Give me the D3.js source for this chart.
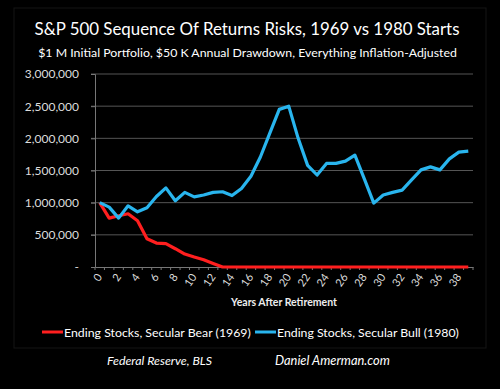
<!DOCTYPE html>
<html>
<head>
<meta charset="utf-8">
<script src="https://cdn.jsdelivr.net/npm/d3@7"></script>
<style>
  body { margin: 0; background: #000; }
  svg { display: block; font-family: Lato, "Open Sans", sans-serif; }
</style>
</head>
<body>
<script>
const W = 500, H = 389;

// data
const years = d3.range(0, 40);
const bear1969 = [1000000, 760000, 796000, 827000, 718000, 439000, 372000, 362000, 284000, 201000,
  155000, 113000, 56000, 0, 0, 0, 0, 0, 0, 0,
  0, 0, 0, 0, 0, 0, 0, 0, 0, 0,
  0, 0, 0, 0, 0, 0, 0, 0, 0, 0];
const bull1980 = [1000000, 931000, 760000, 951000, 858000, 920000, 1096000, 1230000, 1030000, 1160000,
  1090000, 1120000, 1160000, 1170000, 1110000, 1220000, 1410000, 1710000, 2080000, 2450000,
  2500000, 2000000, 1580000, 1430000, 1610000, 1610000, 1645000, 1740000, 1370000, 993000,
  1120000, 1160000, 1195000, 1355000, 1510000, 1556000, 1510000, 1680000, 1785000, 1800000];
const yTicks = [0, 500000, 1000000, 1500000, 2000000, 2500000, 3000000];
const seriesNames = ['Ending Stocks, Secular Bear (1969)', 'Ending Stocks, Secular Bull (1980)'];
const seriesColors = ['#ff1f1f', '#29b5ee'];

const M = {left: 95, right: 473, top: 74, bottom: 267};

const svg = d3.select('body').append('svg')
  .attr('width', W)
  .attr('height', H);

svg.append('rect').attr('width', W).attr('height', H).attr('fill', '#000');

// faint frame
svg.append('rect')
  .attr('x', 14).attr('y', 8).attr('width', 472).attr('height', 340)
  .attr('fill', 'none').attr('stroke', '#141414');

// scale text so it spans a given width
function fit(sel, width) {
  const len = sel.node().getComputedTextLength();
  const fs = parseFloat(sel.attr('font-size'));
  sel.attr('font-size', (fs * width / len).toFixed(2));
  return sel;
}

// titles
fit(svg.append('text')
  .attr('x', 247).attr('y', 35)
  .attr('text-anchor', 'middle')
  .attr('fill', '#fff')
  .attr('font-size', 18)
  .text('S&P 500 Sequence Of Returns Risks, 1969 vs 1980 Starts'), 425);

fit(svg.append('text')
  .attr('x', 247.5).attr('y', 57)
  .attr('text-anchor', 'middle')
  .attr('fill', '#fff')
  .attr('font-size', 12)
  .text('$1 M Initial Portfolio, $50 K Annual Drawdown, Everything Inflation-Adjusted'), 419);

// scales
const x = d3.scaleBand()
  .domain(years)
  .range([M.left, M.right]);

const y = d3.scaleLinear()
  .domain([0, 3000000])
  .range([M.bottom, M.top]);

// gridlines
svg.append('g')
  .selectAll('line')
  .data(yTicks.filter(d => d > 0))
  .enter()
  .append('line')
  .attr('x1', M.left - 4).attr('x2', M.right)
  .attr('y1', d => y(d)).attr('y2', d => y(d))
  .attr('stroke', '#555')
  .attr('stroke-width', 1);

// y axis
const yAxis = svg.append('g')
  .attr('transform', `translate(${M.left},0)`)
  .call(d3.axisLeft(y)
    .tickValues(yTicks)
    .tickSize(4)
    .tickFormat(d => d === 0 ? '-' : d3.format(',')(d)));
yAxis.select('.domain').attr('stroke', '#777');
yAxis.selectAll('.tick line').attr('stroke', '#777');
yAxis.selectAll('text')
  .attr('fill', '#ddd')
  .attr('font-size', 12)
  .attr('font-family', 'Lato, sans-serif')
  .attr('x', -16);

// x axis
const xAxis = svg.append('g')
  .attr('transform', `translate(0,${M.bottom})`)
  .call(d3.axisBottom(x).tickSize(0).tickFormat(d => d % 2 === 0 ? d : ''));
xAxis.select('.domain').attr('stroke', '#777');
xAxis.selectAll('text')
  .attr('fill', '#ddd')
  .attr('font-size', 11)
  .attr('font-family', 'Lato, sans-serif')
  .attr('text-anchor', 'end')
  .attr('dy', 0)
  .attr('transform', 'translate(3,10) rotate(-55)')
  .attr('y', 0).attr('x', 0);

// boundary tick marks
svg.append('g')
  .selectAll('line')
  .data(years.concat([40]))
  .enter()
  .append('line')
  .attr('x1', d => M.left + d * x.step())
  .attr('x2', d => M.left + d * x.step())
  .attr('y1', M.bottom).attr('y2', M.bottom + 3)
  .attr('stroke', '#777');

// axis title
svg.append('text')
  .attr('x', 284).attr('y', 306)
  .attr('text-anchor', 'middle')
  .attr('fill', '#eee')
  .attr('font-size', 10.5)
  .attr('font-weight', 'bold')
  .text('Years After Retirement');

// lines
const line = d3.line()
  .x((d, i) => x(years[i]) + x.bandwidth() / 2)
  .y(d => y(d));

[bear1969, bull1980].forEach((s, i) => {
  svg.append('path')
    .datum(s)
    .attr('fill', 'none')
    .attr('stroke', seriesColors[i])
    .attr('stroke-width', 3.2)
    .attr('stroke-linejoin', 'round')
    .attr('d', line);
});

// legend
const legendX = [42, 255];
const legendW = [187, 182];
const legend = svg.selectAll('.legend')
  .data(seriesNames)
  .enter()
  .append('g')
  .attr('class', 'legend')
  .attr('transform', (d, i) => `translate(${legendX[i]},332)`);

legend.append('line')
  .attr('x1', 0).attr('x2', 21)
  .attr('stroke', (d, i) => seriesColors[i])
  .attr('stroke-width', 3);

legend.append('text')
  .attr('x', 22).attr('y', 4.5)
  .attr('fill', '#fff')
  .attr('font-size', 13)
  .text(d => d)
  .each(function(d, i) { fit(d3.select(this), legendW[i]); });

// sources
fit(svg.append('text')
  .attr('x', 107).attr('y', 365)
  .attr('fill', '#fff')
  .attr('font-size', 13)
  .attr('font-style', 'italic')
  .text('Federal Reserve, BLS'), 105);

fit(svg.append('text')
  .attr('x', 275).attr('y', 365)
  .attr('fill', '#fff')
  .attr('font-size', 13)
  .attr('font-style', 'italic')
  .text('Daniel Amerman.com'), 115);
</script>
</body>
</html>
